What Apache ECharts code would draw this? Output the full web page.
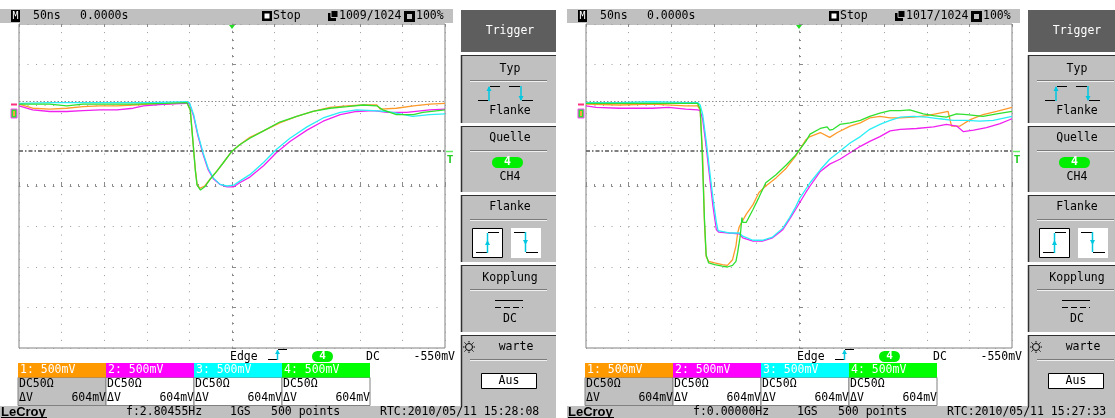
<!DOCTYPE html>
<html>
<head>
<meta charset="utf-8">
<script src="https://cdn.jsdelivr.net/npm/echarts@6/dist/echarts.min.js"></script>
<style>
html,body{margin:0;padding:0;background:#fff;}
#chart{width:1115px;height:418px;}
</style>
</head>
<body>
<div id="chart"></div>
<script>
// ---- Data: [time ns, volts relative to screen centre] ----
const left_ch1 = [[-250,1.01],[-234,0.96],[-214,0.95],[-194,0.96],[-175,0.98],[-155,0.99],[-135,0.99],[-116,1.00],[-96,1.01],[-77,1.01],[-53,1.03],[-51,1.02],[-49,0.94],[-46,0.57],[-43,0.20],[-41,0.02],[-38,-0.03],[-32,0.00],[-26,0.08],[-18,0.18],[-10,0.29],[0,0.43],[9,0.51],[21,0.60],[37,0.68],[56,0.78],[76,0.86],[95,0.92],[115,0.97],[135,0.99],[154,1.00],[170,1.00],[174,0.95],[193,0.96],[213,0.99],[232,1.01],[250,1.02]];
const left_ch2 = [[-250,0.99],[-234,0.94],[-214,0.92],[-194,0.92],[-175,0.93],[-155,0.94],[-135,0.94],[-116,0.96],[-104,0.99],[-77,1.01],[-53,1.02],[-50,1.02],[-45,0.86],[-40,0.62],[-34,0.39],[-28,0.20],[-22,0.09],[-14,0.02],[-6,-0.01],[2,-0.01],[9,0.04],[21,0.11],[37,0.25],[52,0.41],[68,0.55],[88,0.69],[107,0.80],[127,0.88],[146,0.92],[166,0.93],[182,0.91],[205,0.91],[232,0.94],[250,0.95]];
const left_ch3 = [[-250,1.02],[-214,1.03],[-155,1.03],[-96,1.03],[-53,1.04],[-50,1.03],[-45,0.88],[-40,0.64],[-34,0.41],[-28,0.22],[-22,0.10],[-14,0.02],[-6,0.00],[2,0.01],[9,0.06],[21,0.14],[37,0.29],[52,0.45],[68,0.59],[88,0.73],[107,0.84],[127,0.91],[146,0.94],[166,0.93],[182,0.92],[197,0.89],[212,0.86],[232,0.88],[250,0.89]];
const left_ch4 = [[-250,1.01],[-234,1.01],[-214,1.01],[-194,0.99],[-175,1.01],[-155,1.01],[-116,1.01],[-77,1.02],[-53,1.03],[-51,1.02],[-49,0.94],[-46,0.57],[-43,0.19],[-41,0.01],[-37,-0.05],[-32,-0.01],[-26,0.08],[-18,0.18],[-10,0.29],[0,0.43],[9,0.51],[21,0.59],[37,0.68],[56,0.79],[76,0.86],[95,0.92],[115,0.96],[135,0.98],[154,1.00],[170,0.99],[177,0.94],[193,0.88],[213,0.88],[224,0.91],[250,0.94]];

const right_ch1 = [[-250,1.01],[-211,1.00],[-172,1.01],[-133,0.99],[-119,0.99],[-116,0.94],[-113,0.37],[-111,-0.45],[-109,-0.87],[-106,-0.93],[-99,-0.95],[-90,-0.97],[-84,-0.98],[-78,-0.91],[-74,-0.74],[-72,-0.58],[-70,-0.50],[-62,-0.35],[-54,-0.23],[-47,-0.08],[-39,0.00],[-27,0.10],[-15,0.22],[-4,0.37],[8,0.57],[13,0.61],[25,0.66],[36,0.60],[45,0.66],[60,0.74],[72,0.78],[83,0.84],[95,0.86],[107,0.84],[119,0.84],[134,0.85],[150,0.87],[165,0.90],[175,0.92],[179,0.74],[189,0.74],[201,0.82],[216,0.88],[232,0.92],[250,0.97]];
const right_ch2 = [[-250,0.99],[-238,0.97],[-211,0.96],[-172,0.96],[-153,0.97],[-133,0.95],[-119,0.94],[-116,0.93],[-113,0.82],[-109,0.49],[-105,0.12],[-101,-0.25],[-97,-0.54],[-94,-0.57],[-82,-0.58],[-70,-0.59],[-66,-0.64],[-54,-0.68],[-43,-0.68],[-31,-0.64],[-19,-0.54],[-11,-0.41],[-4,-0.29],[8,-0.08],[13,0.00],[25,0.18],[36,0.27],[48,0.33],[60,0.41],[72,0.49],[83,0.55],[95,0.61],[107,0.68],[119,0.70],[138,0.71],[158,0.73],[173,0.76],[185,0.74],[193,0.67],[205,0.69],[220,0.72],[236,0.77],[250,0.83]];
const right_ch3 = [[-250,1.03],[-211,1.03],[-172,1.04],[-133,1.03],[-119,1.03],[-116,1.00],[-113,0.88],[-109,0.56],[-105,0.20],[-101,-0.15],[-97,-0.45],[-95,-0.55],[-93,-0.57],[-82,-0.58],[-70,-0.58],[-66,-0.62],[-54,-0.67],[-43,-0.67],[-31,-0.63],[-19,-0.52],[-11,-0.39],[-4,-0.26],[1,-0.15],[13,0.04],[25,0.20],[36,0.33],[48,0.43],[60,0.53],[72,0.61],[83,0.70],[95,0.76],[107,0.81],[119,0.85],[134,0.86],[150,0.85],[165,0.83],[181,0.81],[197,0.81],[212,0.80],[228,0.81],[250,0.86]];
const right_ch4 = [[-250,1.02],[-211,1.02],[-172,1.02],[-133,1.02],[-119,1.02],[-116,0.95],[-114,0.50],[-111,-0.40],[-109,-0.85],[-106,-0.95],[-99,-0.97],[-90,-0.99],[-84,-1.00],[-78,-0.98],[-74,-0.93],[-72,-0.82],[-69,-0.62],[-67,-0.39],[-66,-0.45],[-62,-0.45],[-54,-0.29],[-47,-0.14],[-39,0.04],[-27,0.14],[-15,0.26],[-4,0.38],[8,0.55],[13,0.64],[25,0.71],[33,0.73],[36,0.69],[40,0.70],[48,0.76],[60,0.78],[72,0.81],[83,0.86],[95,0.90],[107,0.93],[119,0.93],[130,0.94],[146,0.89],[158,0.87],[173,0.85],[185,0.89],[197,0.88],[216,0.86],[232,0.89],[250,0.92]];

const refLevel = 1.047;      // dotted reference line
const trigLevel = 0.438;     // trigger level line
const chLabels = ['1: 500mV','2: 500mV','3: 500mV','4: 500mV'];
const screens = [
  {count:'1009/1024', freq:'f:2.80455Hz', rtc:'RTC:2010/05/11 15:28:08'},
  {count:'1017/1024', freq:'f:0.00000Hz', rtc:'RTC:2010/05/11 15:27:33'}
];

// ---- styling ----
const TRACE = ['#ff9a2a','#f020f0','#28eef5','#2fe02f'];
const HEAD  = ['#ff9900','#ff00ff','#00ffff','#00ff00'];
const FONT = '"DejaVu Sans Mono", monospace';
const GRID_LEFT = [19, 586];

function R(x,y,w,h,fill,stroke,r,z){return {type:'rect',silent:true,z:z||10,shape:{x:x,y:y,width:w,height:h,r:r||0},style:{fill:fill||'none',stroke:stroke||null,lineWidth:1}};}
function T(x,y,s,o){o=o||{};return {type:'text',silent:true,z:12,x:x,y:y,style:{text:s,fill:o.fill||'#000',font:(o.weight||'normal')+' '+(o.size||11.5)+'px '+(o.family||FONT),align:o.align||'left',verticalAlign:'middle'}};}
function L(x1,y1,x2,y2,c,w,dash){return {type:'line',silent:true,z:11,shape:{x1:x1,y1:y1,x2:x2,y2:y2},style:{stroke:c,lineWidth:w||1,lineDash:dash||null}};}
function P(pts,fill){return {type:'polygon',silent:true,z:12,shape:{points:pts},style:{fill:fill}};}

function screenChrome(dx, s){
  const e = [];
  // top status bar
  e.push(R(dx+0,9,453,14,'#c0c0c0'));
  e.push(R(dx+11,10,9,12,'#000'));
  e.push(T(dx+15.5,16.5,'M',{fill:'#fff',size:10,align:'center'}));
  e.push(T(dx+33,16.5,'50ns'));
  e.push(T(dx+80,16.5,'0.0000s'));
  e.push(R(dx+262,11,10,10,'#000'));
  e.push(R(dx+264.5,13.5,5,5,'#fff'));
  e.push(T(dx+273,16.5,'Stop'));
  e.push(R(dx+328,13,8,8,'#000'));
  e.push(R(dx+331,10.5,7,7,'#000','#c0c0c0'));
  e.push(T(dx+339,16.5,s.count));
  e.push(R(dx+404,11,11,11,'#000'));
  e.push(R(dx+407,14,5,5,'#c0c0c0'));
  e.push(T(dx+416,16.5,'100%'));
  // trigger position marker and T marker
  e.push(P([[dx+229,25],[dx+235,25],[dx+232,29]],'#22dd22'));
  e.push(L(dx+446,151.5,dx+453,151.5,'#66ee66',1.5));
  e.push(T(dx+450,160,'T',{fill:'#22cc22',size:11,align:'center',weight:'bold'}));
  // channel ground markers
  e.push(R(dx+11,103.5,6,2,'#ff3080',null,0,13));
  e.push(R(dx+11,109,6,9,'#30e030','#ff40ff',0,13));
  e.push(R(dx+13,111,2,5,'#ffa040',null,0,13));
  // trigger info row
  e.push(T(dx+230,357,'Edge'));
  e.push(L(dx+268,359.5,dx+277,359.5,'#000'));
  e.push(L(dx+277.5,360,dx+277.5,350,'#00c8e0',1.5));
  e.push(P([[dx+275,354],[dx+280,354],[dx+277.5,350]],'#00c8e0'));
  e.push(L(dx+278,349.5,dx+287,349.5,'#000'));
  e.push(R(dx+312,351,21,11,'#00ee00',null,5.5));
  e.push(T(dx+322.5,356.5,'4',{fill:'#fff',size:11,align:'center',weight:'bold'}));
  e.push(T(dx+366,357,'DC'));
  e.push(T(dx+455,357,'-550mV',{align:'right'}));
  // channel boxes
  for(let i=0;i<4;i++){
    const bx = dx+18+88*i;
    e.push(R(bx,377.5,88,28,i===0?'#c0c0c0':'#fff','#808080'));
    e.push(R(bx,363,88,14.5,HEAD[i]));
    e.push(T(bx+2,370.5,chLabels[i],{fill:'#fff'}));
    e.push(T(bx+1,384.5,'DC50Ω'));
    e.push(T(bx+1,398.5,'ΔV'));
    e.push(T(bx+88,398.5,'604mV',{align:'right'}));
  }
  // bottom status bar
  e.push(R(dx+0,406,556,12,'#c0c0c0'));
  e.push(T(dx+1,412,'LeCroy',{size:13,weight:'bold',family:'"Liberation Sans", Arial, sans-serif'}));
  e.push(L(dx+1,417.5,dx+47,417.5,'#000'));
  e.push(T(dx+126,412,s.freq));
  e.push(T(dx+230,412,'1GS'));
  e.push(T(dx+271,412,'500 points'));
  e.push(T(dx+380,412,s.rtc));
  // right menu panel
  const px = dx+461, cx = px+49;
  function box(y,h){
    e.push(R(px,y,95,h,'#c0c0c0'));
    e.push(L(px+0.5,y,px+0.5,y+h,'#303030',1.5));
    e.push(L(px,y+0.5,px+95,y+0.5,'#303030',1));
  }
  function sep(y){
    e.push(L(px+9,y+0.5,px+86,y+0.5,'#7a7a7a'));
    e.push(L(px+9,y+1.5,px+86,y+1.5,'#f0f0f0'));
  }
  e.push(R(px,10,95,42,'#5e5e5e'));
  e.push(T(cx,31,'Trigger',{fill:'#fff',align:'center'}));
  box(55,68); e.push(T(cx,69,'Typ',{align:'center'})); sep(80);
  e.push(L(px+17,100.5,px+27,100.5,'#000'));
  e.push(L(px+28,101,px+28,87,'#00c8e0',1.5));
  e.push(P([[px+25.5,91],[px+30.5,91],[px+28,86]],'#00c8e0'));
  e.push(L(px+29,86.5,px+39,86.5,'#000'));
  e.push(L(px+48,86.5,px+59,86.5,'#000'));
  e.push(L(px+60,86,px+60,100,'#00c8e0',1.5));
  e.push(P([[px+57.5,96],[px+62.5,96],[px+60,101]],'#00c8e0'));
  e.push(L(px+61,100.5,px+72,100.5,'#000'));
  e.push(T(cx,111,'Flanke',{align:'center'}));
  box(126,66); e.push(T(cx,138,'Quelle',{align:'center'})); sep(150);
  e.push(R(px+31,157,31,11,'#00ee00',null,5.5));
  e.push(T(px+46.5,162.5,'4',{fill:'#fff',align:'center',weight:'bold'}));
  e.push(T(cx,177,'CH4',{align:'center'}));
  box(195,67); e.push(T(cx,207,'Flanke',{align:'center'})); sep(219);
  e.push(R(px+11.5,228.5,30,29,'#fff','#000'));
  e.push(L(px+15,252.5,px+26,252.5,'#000'));
  e.push(L(px+26.5,253,px+26.5,233,'#00c8e0',1.5));
  e.push(P([[px+24,245],[px+29,245],[px+26.5,240]],'#00c8e0'));
  e.push(L(px+27,232.5,px+38,232.5,'#000'));
  e.push(R(px+50,228,30,30,'#fff'));
  e.push(L(px+53,232.5,px+64,232.5,'#000'));
  e.push(L(px+64.5,232,px+64.5,252,'#00c8e0',1.5));
  e.push(P([[px+62,240],[px+67,240],[px+64.5,245]],'#00c8e0'));
  e.push(L(px+65,252.5,px+77,252.5,'#000'));
  box(265,67); e.push(T(cx,278,'Kopplung',{align:'center'})); sep(289);
  e.push(L(px+34,300.5,px+62,300.5,'#000'));
  e.push(L(px+34,307.5,px+62,307.5,'#000',1,[6,3]));
  e.push(T(cx,319,'DC',{align:'center'}));
  box(335,71);
  e.push({type:'circle',silent:true,z:12,shape:{cx:px+8,cy:347,r:3.5},style:{fill:'none',stroke:'#000',lineWidth:1}});
  [[0,-6,0,-4.5],[0,6,0,4.5],[-6,0,-4.5,0],[6,0,4.5,0],[-4.5,-4.5,-3.3,-3.3],[4.5,4.5,3.3,3.3],[-4.5,4.5,-3.3,3.3],[4.5,-4.5,3.3,-3.3]].forEach(function(d){e.push(L(px+8+d[0],347+d[1],px+8+d[2],347+d[3],'#000'));});
  e.push(T(px+55,347,'warte',{align:'center'}));
  sep(359);
  e.push(R(px+20.5,373.5,55,15,'#fff','#000'));
  e.push(T(px+48,381,'Aus',{align:'center'}));
  return e;
}

const graphics = screenChrome(0, screens[0]).concat(screenChrome(567, screens[1]));

function xAxisMain(i){return {gridIndex:i,type:'value',min:-250,max:250,interval:50,
  axisLabel:{show:false},
  axisLine:{show:true,onZero:true,lineStyle:{color:'#8a8a8a',type:[1,7.52]}},
  axisTick:{show:true,inside:true,length:4,lineStyle:{color:'#8a8a8a'}},
  minorTick:{show:true,splitNumber:5,length:2,lineStyle:{color:'#8a8a8a'}},
  splitLine:{show:true,lineStyle:{color:'#9a9a9a',width:1,type:[1,7.1]}}};}
function xAxisTop(i){return {gridIndex:i,type:'value',position:'top',min:-250,max:250,interval:50,
  axisLabel:{show:false},axisLine:{show:false,onZero:false},
  axisTick:{show:true,inside:true,length:3,lineStyle:{color:'#8a8a8a'}},splitLine:{show:false}};}
function yAxisMain(i){return {gridIndex:i,type:'value',min:-2,max:2,interval:0.5,
  axisLabel:{show:false},
  axisLine:{show:true,onZero:true,lineStyle:{color:'#8a8a8a',type:[1,7.1]}},
  axisTick:{show:true,inside:true,length:4,lineStyle:{color:'#8a8a8a'}},
  minorTick:{show:true,splitNumber:5,length:2,lineStyle:{color:'#8a8a8a'}},
  splitLine:{show:true,lineStyle:{color:'#9a9a9a',width:1,type:[1,7.52]}}};}

function trace(data, color, xi, yi, z, mark){
  const s = {type:'line',data:data,xAxisIndex:xi,yAxisIndex:yi,showSymbol:false,symbol:'none',
    lineStyle:{color:color,width:1.3},itemStyle:{color:color},z:z,silent:true,animation:false};
  if(mark){
    s.markLine = {silent:true,symbol:'none',label:{show:false},animation:false,
      data:[
        {yAxis:refLevel,lineStyle:{color:'#8a8a8a',type:[1.5,2],width:1}},
        {yAxis:trigLevel,lineStyle:{color:'#555',type:[4,2,1.5,2],width:1.5}}
      ]};
  }
  return s;
}

const option = {
  animation:false,
  backgroundColor:'#fff',
  grid:[
    {left:GRID_LEFT[0],top:24,width:426,height:324,show:true,backgroundColor:'#fff',borderColor:'#808080',borderWidth:1},
    {left:GRID_LEFT[1],top:24,width:426,height:324,show:true,backgroundColor:'#fff',borderColor:'#808080',borderWidth:1}
  ],
  xAxis:[xAxisMain(0),xAxisMain(1),xAxisTop(0),xAxisTop(1)],
  yAxis:[yAxisMain(0),yAxisMain(1)],
  series:[
    trace(left_ch1,TRACE[0],0,0,3,true),
    trace(left_ch2,TRACE[1],0,0,4,false),
    trace(left_ch3,TRACE[2],0,0,5,false),
    trace(left_ch4,TRACE[3],0,0,6,false),
    trace(right_ch1,TRACE[0],1,1,3,true),
    trace(right_ch2,TRACE[1],1,1,4,false),
    trace(right_ch3,TRACE[2],1,1,5,false),
    trace(right_ch4,TRACE[3],1,1,6,false)
  ],
  graphic:{elements:graphics}
};

const chart = echarts.init(document.getElementById('chart'),null,{renderer:'canvas'});
chart.setOption(option);
</script>
</body>
</html>
